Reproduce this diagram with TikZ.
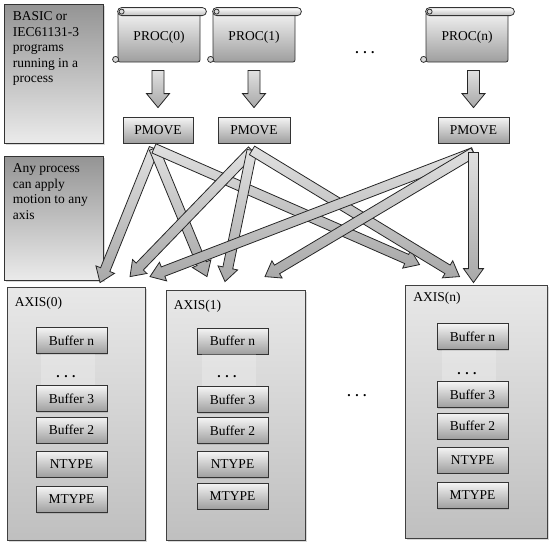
\documentclass[tikz,border=0pt]{standalone}
\usepackage{fontspec}
\setmainfont{Liberation Serif}
\usetikzlibrary{calc,shadows}

\tikzset{
	infobox/.style={draw=black!80,line width=0.8pt,top color=black!42,bottom color=black!8,inner sep=0pt,drop shadow={opacity=0.3,shadow xshift=1.5pt,shadow yshift=-1.5pt}},
	infotext/.style={anchor=north west,align=left,inner sep=0pt},
	procbox/.style={draw=black!80,line width=0.8pt,rounded corners=2pt,top color=black!5,bottom color=black!38,minimum width=82pt,minimum height=50pt,inner sep=0pt},
	rollpart/.style={draw=black!80,line width=0.8pt,rounded corners=4pt,top color=white,bottom color=black!25},
	curlpart/.style={draw=black!80,line width=0.8pt,fill=black!15},
	pmovebox/.style={draw=black!80,line width=0.8pt,top color=black!4,bottom color=black!38,minimum height=26pt,inner sep=0pt,drop shadow={opacity=0.3,shadow xshift=1pt,shadow yshift=-1pt}},
	bufbox/.style={pmovebox,minimum width=71pt},
	axisbox/.style={draw=black!75,line width=0.8pt,top color=black!9,bottom color=black!25,inner sep=0pt,drop shadow={opacity=0.3,shadow xshift=1.5pt,shadow yshift=-1.5pt}},
	axislabel/.style={anchor=base west,inner sep=0pt},
	bigarrow/.style={draw=black!85,line width=0.8pt,top color=black!12,bottom color=black!34}
}

% #1 half shaft, #2 half head, #3 tail, #4 tip
\newcommand{\blockarrow}[4]{%
	\coordinate (neck) at ($(#4)!14pt!(#3)$);
	\draw[bigarrow] ($(#3)!#1pt!90:(#4)$) -- ($(neck)!#1pt!90:(#4)$) -- ($(neck)!#2pt!90:(#4)$) -- (#4) -- ($(neck)!#2pt!-90:(#4)$) -- ($(neck)!#1pt!-90:(#4)$) -- ($(#3)!#1pt!-90:(#4)$) -- cycle;
}
\newcommand{\scrollparts}[1]{%
	\draw[rollpart] ([yshift=4pt]#1.north west) rectangle ([xshift=6pt,yshift=-4pt]#1.north east);
	\draw[curlpart] ([xshift=4pt]#1.north west) circle (2.5pt);
	\draw[curlpart] ([xshift=-2pt,yshift=3pt]#1.south west) circle (3pt);
}

\begin{document}
\begin{tikzpicture}[x=1pt,y=-1pt,font=\fontsize{13.5}{15.5}\selectfont]
	\useasboundingbox (0,0) rectangle (549,546);

	\node[infobox,minimum width=99pt,minimum height=139pt] (info1) at (53.5,73.5) {};
	\node[infotext] at ([xshift=9pt,yshift=-8pt]info1.north west) {BASIC or\\IEC61131-3\\programs\\running in a\\process};
	\node[infobox,minimum width=99pt,minimum height=124pt] (info2) at (53.5,218) {};
	\node[infotext] at ([xshift=9pt,yshift=-8pt]info2.north west) {Any process\\can apply\\motion to any\\axis};

	\node[procbox] (proc0) at (159,37) {PROC(0)};
	\scrollparts{proc0}
	\node[procbox] (proc1) at (254,37) {PROC(1)};
	\scrollparts{proc1}
	\node[procbox] (procn) at (467,37) {PROC(n)};
	\scrollparts{procn}
	\node (pdots) at (365,53) {\textbf{. . .}};

	\node[pmovebox,minimum width=70pt] (pm0) at (158,130) {PMOVE};
	\node[pmovebox,minimum width=72pt] (pm1) at (254,130) {PMOVE};
	\node[pmovebox,minimum width=71pt] (pmn) at (473.5,130) {PMOVE};

	\coordinate (d0a) at ($(proc0.south -| pm0.north)+(0,8)$);
	\coordinate (d0b) at ($(pm0.north)+(0,-9)$);
	\coordinate (d1a) at ($(proc1.south -| pm1.north)+(0,8)$);
	\coordinate (d1b) at ($(pm1.north)+(0,-9)$);
	\coordinate (dna) at ($(procn.south -| pmn.north)+(0,8)$);
	\coordinate (dnb) at ($(pmn.north)+(0,-9)$);
	\blockarrow{6}{11.5}{d0a}{d0b}
	\blockarrow{6}{11.5}{d1a}{d1b}
	\blockarrow{6}{11.5}{dna}{dnb}

	\node[axisbox,minimum width=138pt,minimum height=253pt] (ax0) at (76,413.5) {};
	\node[axisbox,minimum width=139pt,minimum height=250pt] (ax1) at (235.5,415) {};
	\node[axisbox,minimum width=142pt,minimum height=253pt] (axn) at (476.5,411.5) {};
	\node[axislabel] at ([xshift=8pt,yshift=-20pt]ax0.north west) {AXIS(0)};
	\node[axislabel] at ([xshift=8pt,yshift=-20pt]ax1.north west) {AXIS(1)};
	\node[axislabel] at ([xshift=8pt,yshift=-17pt]axn.north west) {AXIS(n)};
	\node (adots) at (357,396) {\textbf{. . .}};

	\node[bufbox] (bn0) at (71.5,340.5) {Buffer n};
	\node[bufbox] (b30) at (71.5,398.5) {Buffer 3};
	\fill[white,opacity=0.22] ([xshift=5pt]bn0.south west) rectangle ([xshift=-12pt]b30.north east);
	\node at (66,377) {\textbf{. . .}};
	\node[bufbox] (b20) at (71.5,430) {Buffer 2};
	\node[bufbox] (nt0) at (71.5,464) {NTYPE};
	\node[bufbox] (mt0) at (71.5,499.5) {MTYPE};

	\node[bufbox] (bn1) at (232.5,341) {Buffer n};
	\node[bufbox] (b31) at (232.5,399.5) {Buffer 3};
	\fill[white,opacity=0.22] ([xshift=5pt]bn1.south west) rectangle ([xshift=-12pt]b31.north east);
	\node at (227,377) {\textbf{. . .}};
	\node[bufbox] (b21) at (232.5,430.5) {Buffer 2};
	\node[bufbox] (nt1) at (232.5,464.5) {NTYPE};
	\node[bufbox] (mt1) at (232.5,496) {MTYPE};

	\node[bufbox] (bnn) at (472.5,336.5) {Buffer n};
	\node[bufbox] (b3n) at (472.5,394.5) {Buffer 3};
	\fill[white,opacity=0.22] ([xshift=5pt]bnn.south west) rectangle ([xshift=-12pt]b3n.north east);
	\node at (467,374) {\textbf{. . .}};
	\node[bufbox] (b2n) at (472.5,426) {Buffer 2};
	\node[bufbox] (ntn) at (472.5,460) {NTYPE};
	\node[bufbox] (mtn) at (472.5,495.5) {MTYPE};

	\coordinate (s0) at ($(pm0.south)+(-4,5)$);
	\coordinate (s1) at ($(pm1.south)+(-2,7)$);
	\coordinate (sn) at ($(pmn.south)+(0,9)$);
	\coordinate (t00) at ($(ax0.north)+(24,-4)$);
	\coordinate (t10) at ($(ax0.north)+(54,-10)$);
	\coordinate (tn0) at ($(ax0.north)+(74,-10)$);
	\coordinate (t01) at ($(ax1.north)+(-28.5,-13)$);
	\coordinate (t11) at ($(ax1.north)+(-10.5,-8)$);
	\coordinate (tn1) at ($(ax1.north)+(29.5,-13)$);
	\coordinate (t0n) at ($(axn.north)+(-57,-20)$);
	\coordinate (t1n) at ($(axn.north)+(-17,-8)$);
	\coordinate (tnn) at ($(axn.north)+(-3,-2)$);

	\blockarrow{5}{10}{s0}{t00}
	\blockarrow{5}{10}{s0}{t01}
	\blockarrow{5}{10}{s0}{t0n}
	\blockarrow{5}{10}{s1}{t10}
	\blockarrow{5}{10}{s1}{t11}
	\blockarrow{5}{10}{s1}{t1n}
	\blockarrow{5}{10}{sn}{tn0}
	\blockarrow{5}{10}{sn}{tn1}
	\blockarrow{5}{10}{sn}{tnn}
\end{tikzpicture}
\end{document}
